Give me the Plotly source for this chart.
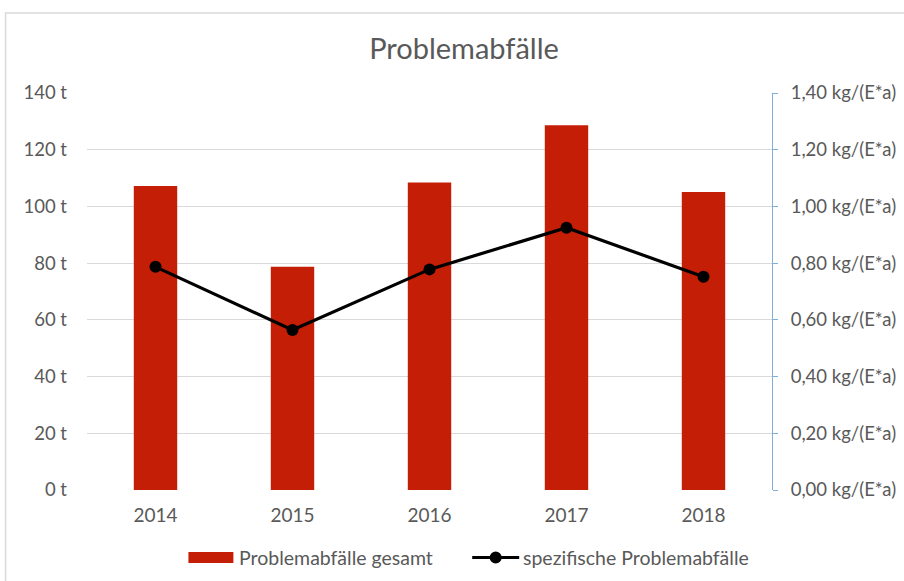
import plotly.graph_objects as go

years = ["2014", "2015", "2016", "2017", "2018"]
gesamt_t = [107.2, 78.7, 108.4, 128.6, 105.1]
spezifisch = [0.787, 0.564, 0.778, 0.925, 0.752]

left_vals = [0, 20, 40, 60, 80, 100, 120, 140]
left_text = ["0 t", "20 t", "40 t", "60 t", "80 t", "100 t", "120 t", "140 t"]
right_vals = [0, 0.2, 0.4, 0.6, 0.8, 1.0, 1.2, 1.4]
right_text = ["0,00 kg/(E*a)", "0,20 kg/(E*a)", "0,40 kg/(E*a)", "0,60 kg/(E*a)",
              "0,80 kg/(E*a)", "1,00 kg/(E*a)", "1,20 kg/(E*a)", "1,40 kg/(E*a)"]
legend_names = ["Problemabfälle gesamt", "spezifische Problemabfälle"]

FONT = "Lato"
GREY = "#595959"
RED = "#C41E06"
W, H = 904, 581
L, R, T, B = 86.5, 132, 93, 91
PW, PH = W - L - R, H - T - B


def px(x):
    return (x - L) / PW


def py(y):
    return (H - B - y) / PH


fig = go.Figure()
fig.add_trace(go.Bar(x=years, y=gesamt_t, name=legend_names[0],
                     marker=dict(color=RED, line=dict(width=0)), yaxis="y",
                     showlegend=False))
fig.add_trace(go.Scatter(x=years, y=spezifisch, name=legend_names[1],
                         mode="lines+markers", yaxis="y2",
                         line=dict(color="black", width=3.2),
                         marker=dict(color="black", size=12),
                         showlegend=False))

fig.update_layout(
    width=W, height=H,
    margin=dict(l=L, r=R, t=T, b=B, autoexpand=False),
    paper_bgcolor="white", plot_bgcolor="white",
    font=dict(family=FONT, color=GREY, size=19),
    title=dict(text="Problemabfälle", x=464 / W, xanchor="center",
               y=1 - 49 / H, yanchor="middle", yref="container",
               font=dict(family=FONT, size=29, color=GREY)),
    bargap=0.683,
    showlegend=False,
    xaxis=dict(showgrid=False, showline=False, ticks="", automargin=False,
               ticklabelstandoff=12, tickfont=dict(size=19, color=GREY)),
    yaxis=dict(range=[0, 140], tickvals=left_vals, ticktext=left_text,
               showgrid=True, gridcolor="#D9D9D9", gridwidth=1, zeroline=False,
               showline=False, ticks="", ticklabelstandoff=19, automargin=False,
               tickfont=dict(size=18.5, color=GREY)),
    yaxis2=dict(range=[0, 1.4], tickvals=right_vals, ticktext=right_text,
                overlaying="y", side="right", showgrid=False, zeroline=False,
                showline=True, linecolor="#7FAEDD", linewidth=1,
                ticks="outside", ticklen=5, tickcolor="#7FAEDD",
                ticklabelstandoff=9, automargin=False,
                tickfont=dict(size=18.5, color=GREY)),
)

# chart frame
fig.add_shape(type="rect", xref="paper", yref="paper",
              x0=px(5), x1=px(1000), y0=py(700), y1=py(13),
              line=dict(color="#D9D9D9", width=1.5), fillcolor="rgba(0,0,0,0)", layer="below")

# legend
fig.add_shape(type="rect", xref="paper", yref="paper",
              x0=px(188), x1=px(233), y0=py(563), y1=py(552),
              line=dict(width=0), fillcolor=RED)
fig.add_annotation(xref="paper", yref="paper", x=px(237), y=py(557.5),
                   xanchor="left", yanchor="middle", showarrow=False,
                   text=legend_names[0], font=dict(family=FONT, size=19.5, color=GREY))
fig.add_shape(type="line", xref="paper", yref="paper",
              x0=px(472), x1=px(519), y0=py(557.5), y1=py(557.5),
              line=dict(color="black", width=3.2))
fig.add_shape(type="circle", xref="paper", yref="paper",
              x0=px(489.5), x1=px(501.5), y0=py(563.5), y1=py(551.5),
              line=dict(width=0), fillcolor="black")
fig.add_annotation(xref="paper", yref="paper", x=px(521), y=py(557.5),
                   xanchor="left", yanchor="middle", showarrow=False,
                   text=legend_names[1], font=dict(family=FONT, size=19.5, color=GREY))

fig.write_html(
    "out.html",
    config={"displayModeBar": False},
    post_script="document.documentElement.style.margin='0';"
                "document.body.style.margin='0';document.body.style.padding='0';"
                "document.body.style.overflow='hidden';",
)
